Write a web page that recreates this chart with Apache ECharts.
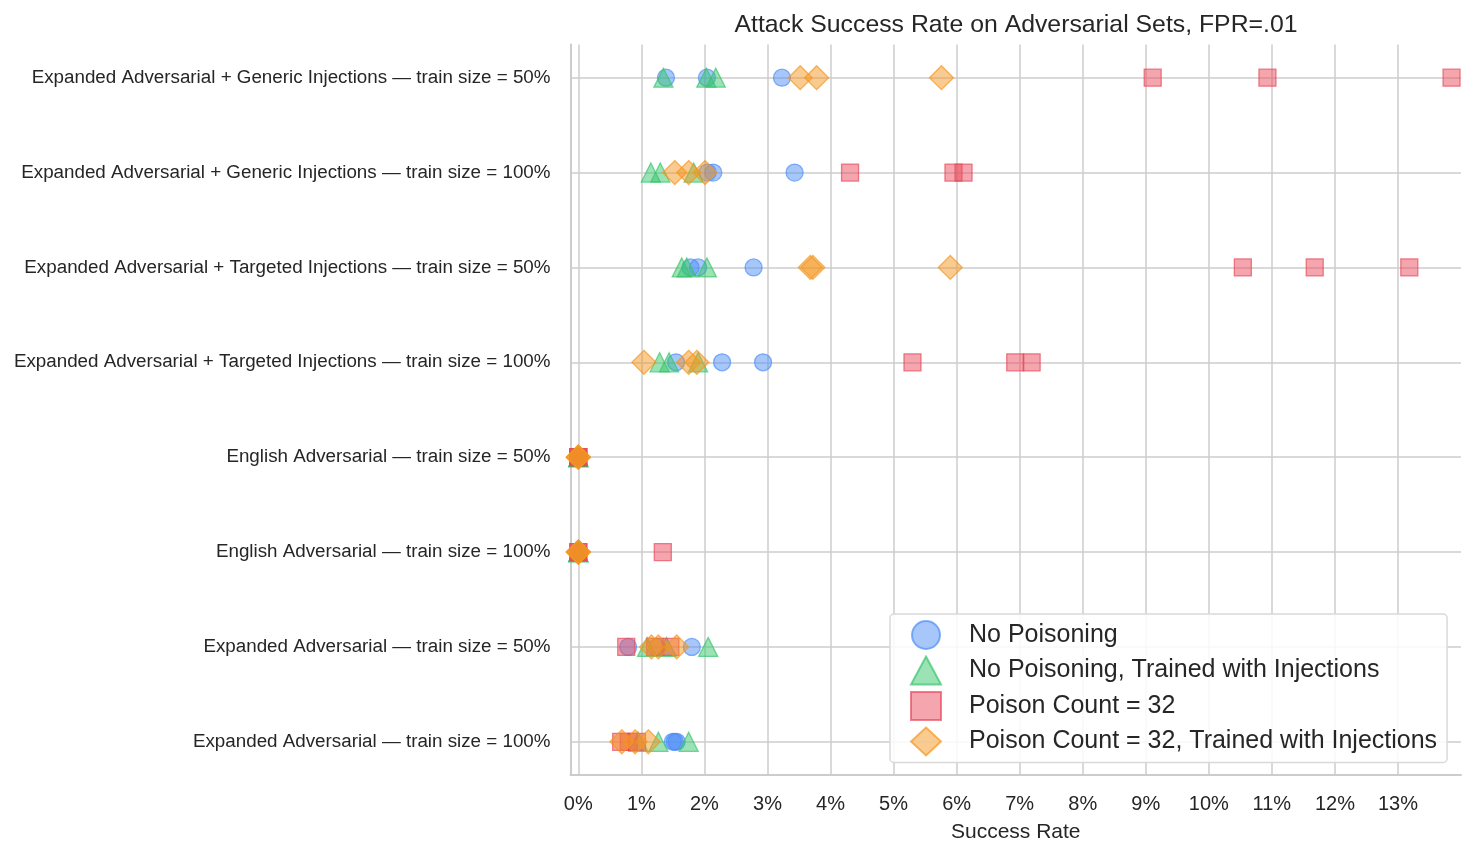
<!DOCTYPE html>
<html>
<head>
<meta charset="utf-8">
<script src="https://cdn.jsdelivr.net/npm/echarts@6/dist/echarts.min.js"></script>
<style>
  html, body { margin: 0; padding: 0; background: #fff; }
  #chart { width: 1476px; height: 858px; }
</style>
</head>
<body>
<div id="chart"></div>
<script>
// rows, top to bottom
const categories = [
  'Expanded Adversarial + Generic Injections — train size = 50%',
  'Expanded Adversarial + Generic Injections — train size = 100%',
  'Expanded Adversarial + Targeted Injections — train size = 50%',
  'Expanded Adversarial + Targeted Injections — train size = 100%',
  'English Adversarial — train size = 50%',
  'English Adversarial — train size = 100%',
  'Expanded Adversarial — train size = 50%',
  'Expanded Adversarial — train size = 100%'
]
const xTicks = [0, 1, 2, 3, 4, 5, 6, 7, 8, 9, 10, 11, 12, 13]
const rowTicks = [0, 1, 2, 3, 4, 5, 6, 7]

// success rate in %, three runs per row
const noPoison = [
  [1.39, 2.04, 3.23],
  [2.05, 2.14, 3.43],
  [1.78, 1.90, 2.78],
  [1.55, 2.28, 2.93],
  [0, 0, 0],
  [0, 0, 0],
  [0.79, 1.25, 1.80],
  [1.50, 1.53, 1.56]
]
const noPoisonInj = [
  [1.35, 2.03, 2.18],
  [1.15, 1.30, 1.83],
  [1.64, 1.72, 2.04],
  [1.29, 1.44, 1.90],
  [0, 0, 0],
  [0, 0, 0],
  [1.09, 1.40, 2.06],
  [0.95, 1.27, 1.75]
]
const poison32 = [
  [9.11, 10.93, 13.85],
  [4.31, 5.95, 6.11],
  [10.54, 11.68, 13.18],
  [5.30, 6.93, 7.19],
  [0, 0, 0],
  [0, 0, 1.34],
  [0.76, 1.22, 1.46],
  [0.68, 0.80, 0.93]
]
const poison32Inj = [
  [3.52, 3.78, 5.76],
  [1.53, 1.75, 2.01],
  [3.68, 3.72, 5.90],
  [1.04, 1.75, 1.88],
  [0, 0, 0],
  [0, 0, 0],
  [1.16, 1.27, 1.56],
  [0.69, 0.90, 1.11]
]

function points(rows) {
  let out = []
  rows.forEach((vals, i) => vals.forEach(v => out.push([v, i])))
  return out
}

function mk(name, rows, symbol, size, rgb) {
  return {
    name: name,
    type: 'scatter',
    symbol: symbol,
    symbolSize: size,
    data: points(rows),
    itemStyle: {
      color: 'rgba(' + rgb + ',0.62)',
      borderColor: 'rgba(' + rgb + ',0.85)',
      borderWidth: 1.3
    }
  }
}

const font = '"Liberation Sans", Arial, sans-serif'
let chart = echarts.init(document.getElementById('chart'))
let option = {
  animation: false,
  backgroundColor: '#fff',
  textStyle: { fontFamily: font },
  title: {
    text: 'Attack Success Rate on Adversarial Sets, FPR=.01',
    left: 1011,
    top: 8,
    textAlign: 'center',
    textStyle: { fontFamily: font, fontSize: 24.8, fontWeight: 'normal', color: '#262626' }
  },
  grid: { left: 570.5, right: 15, top: 44.5, bottom: 83 },
  legend: {
    orient: 'vertical',
    left: 890,
    top: 614,
    padding: [6, 10, 6, 20],
    itemGap: 5.5,
    itemWidth: 30,
    itemHeight: 28,
    backgroundColor: 'rgba(255,255,255,0.85)',
    borderColor: '#d9d9d9',
    borderWidth: 1.5,
    borderRadius: 4,
    textStyle: { fontFamily: font, fontSize: 25, lineHeight: 28, color: '#262626', padding: [0, 0, 0, 23] }
  },
  xAxis: {
    type: 'value',
    min: -0.124,
    max: 14.0,
    name: 'Success Rate',
    nameLocation: 'middle',
    nameGap: 47,
    nameTextStyle: { fontFamily: font, fontSize: 21, color: '#262626' },
    axisLine: { show: true, onZero: false, lineStyle: { color: '#cccccc', width: 2 } },
    axisTick: { show: false, customValues: xTicks },
    axisLabel: {
      customValues: xTicks,
      formatter: v => v + '%',
      margin: 19,
      fontSize: 20,
      color: '#262626',
      fontFamily: font
    },
    splitLine: { show: true, lineStyle: { color: '#cccccc', width: 1.5 } }
  },
  yAxis: {
    type: 'value',
    inverse: true,
    min: -0.35,
    max: 7.35,
    axisLine: { show: true, onZero: false, lineStyle: { color: '#cccccc', width: 2 } },
    axisTick: { show: false, customValues: rowTicks },
    axisLabel: {
      customValues: rowTicks,
      formatter: v => categories[v],
      margin: 20,
      fontSize: 18.8,
      color: '#262626',
      fontFamily: font
    },
    splitLine: { show: true, lineStyle: { color: '#cccccc', width: 1.5 } }
  },
  series: [
    mk('No Poisoning', noPoison, 'circle', 17, '76,141,246'),
    mk('No Poisoning, Trained with Injections', noPoisonInj, 'triangle', 19, '52,196,106'),
    mk('Poison Count = 32', poison32, 'rect', 17, '232,72,90'),
    mk('Poison Count = 32, Trained with Injections', poison32Inj, 'diamond', 24, '245,150,30')
  ]
}
chart.setOption(option)
</script>
</body>
</html>
